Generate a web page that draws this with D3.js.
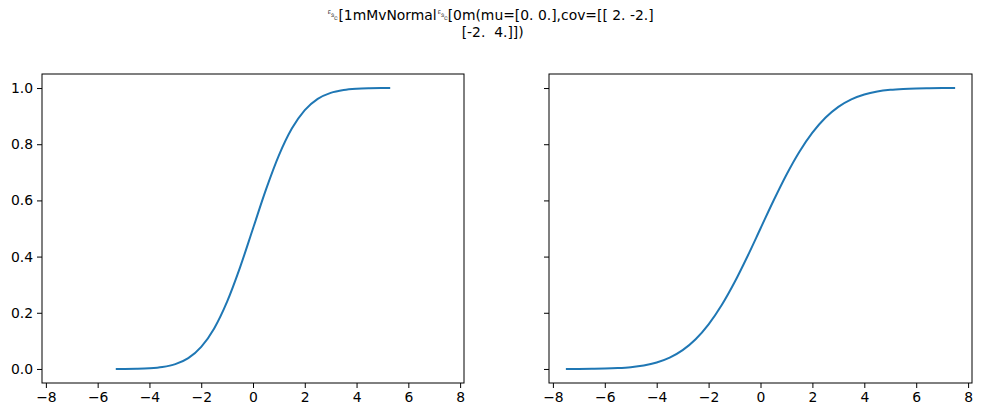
<!DOCTYPE html>
<html>
<head>
<meta charset="utf-8">
<script src="https://cdn.jsdelivr.net/npm/d3@7"></script>
<style>
  body { margin: 0; background: #fff; }
  text { font-family: "DejaVu Sans", sans-serif; }
</style>
</head>
<body>
<script>
// title lines (the escape chars show up as boxed glyphs in the original)
var titleLines = ["\u241B[1mMvNormal\u241B[0m(mu=[0. 0.],cov=[[ 2. -2.]", " [-2.  4.]])"];

// left panel: marginal cdf, var 2
var xLeft = [-5.3, -5, -4.5, -4, -3.5, -3, -2.5, -2, -1.5, -1, -0.5, 0,
             0.5, 1, 1.5, 2, 2.5, 3, 3.5, 4, 4.5, 5, 5.3];
var yLeft = [0.0001, 0.0002, 0.0007, 0.0023, 0.0067, 0.017, 0.0385, 0.0786, 0.1444, 0.2398, 0.3618, 0.5,
             0.6382, 0.7602, 0.8556, 0.9214, 0.9615, 0.983, 0.9933, 0.9977, 0.9993, 0.9998, 0.9999];

// right panel: marginal cdf, var 4
var xRight = [-7.5, -7, -6.5, -6, -5.5, -5, -4.5, -4, -3.5, -3, -2.5, -2, -1.5, -1, -0.5, 0,
              0.5, 1, 1.5, 2, 2.5, 3, 3.5, 4, 4.5, 5, 5.5, 6, 6.5, 7, 7.5];
var yRight = [0.0001, 0.0002, 0.0006, 0.0013, 0.003, 0.0062, 0.0122, 0.0228, 0.0401, 0.0668, 0.1056, 0.1587, 0.2266, 0.3085, 0.4013, 0.5,
              0.5987, 0.6915, 0.7734, 0.8413, 0.8944, 0.9332, 0.9599, 0.9772, 0.9878, 0.9938, 0.997, 0.9987, 0.9994, 0.9998, 0.9999];

var xTicks = [-8, -6, -4, -2, 0, 2, 4, 6, 8];
var yTicks = [0.0, 0.2, 0.4, 0.6, 0.8, 1.0];

var W = 981, H = 416;
var svg = d3.select("body").append("svg").attr("width", W).attr("height", H);

var plotTop = 74, plotBottom = 383;
var y = d3.scaleLinear().domain([-0.05, 1.05]).range([plotBottom, plotTop]);

var panels = [
  {left: 42, right: 464, xs: xLeft, ys: yLeft, labels: true},
  {left: 549, right: 972, xs: xRight, ys: yRight, labels: false}
];

var fmtY = d3.format(".1f");
var fmtX = function (d) { return d < 0 ? "\u2212" + Math.abs(d) : String(d); };

panels.forEach(function (p) {
  var x = d3.scaleLinear().domain([-8.15, 8.15]).range([p.left, p.right]);
  var g = svg.append("g");

  var line = d3.line()
    .x(function (d) { return x(d[0]); })
    .y(function (d) { return y(d[1]); })
    .curve(d3.curveMonotoneX);

  g.append("path")
    .datum(d3.zip(p.xs, p.ys))
    .attr("fill", "none")
    .attr("stroke", "#1f77b4")
    .attr("stroke-width", 2)
    .attr("d", line);

  var xAxis = g.append("g").attr("transform", "translate(0," + plotBottom + ")")
    .call(d3.axisBottom(x).tickValues(xTicks).tickFormat(fmtX).tickSize(5).tickPadding(4));
  var yAxis = g.append("g").attr("transform", "translate(" + p.left + ",0)")
    .call(d3.axisLeft(y).tickValues(yTicks).tickFormat(p.labels ? fmtY : "").tickSize(5).tickPadding(4));

  [xAxis, yAxis].forEach(function (a) {
    a.select(".domain").remove();
    a.selectAll("line").attr("stroke", "#000").attr("stroke-width", 1);
    a.selectAll("text").attr("fill", "#000").style("font-size", "13.9px")
      .style("font-family", "'DejaVu Sans', sans-serif");
  });

  // frame
  g.append("rect")
    .attr("x", p.left).attr("y", plotTop)
    .attr("width", p.right - p.left).attr("height", plotBottom - plotTop)
    .attr("fill", "none").attr("stroke", "#000").attr("stroke-width", 1);
});

svg.selectAll("text.title")
  .data(titleLines)
  .enter().append("text")
  .attr("class", "title")
  .attr("x", W / 2)
  .attr("y", function (d, i) { return 20 + i * 17; })
  .attr("text-anchor", "middle")
  .style("font-size", "13.9px")
  .style("white-space", "pre")
  .attr("xml:space", "preserve")
  .text(function (d) { return d; });
</script>
</body>
</html>
